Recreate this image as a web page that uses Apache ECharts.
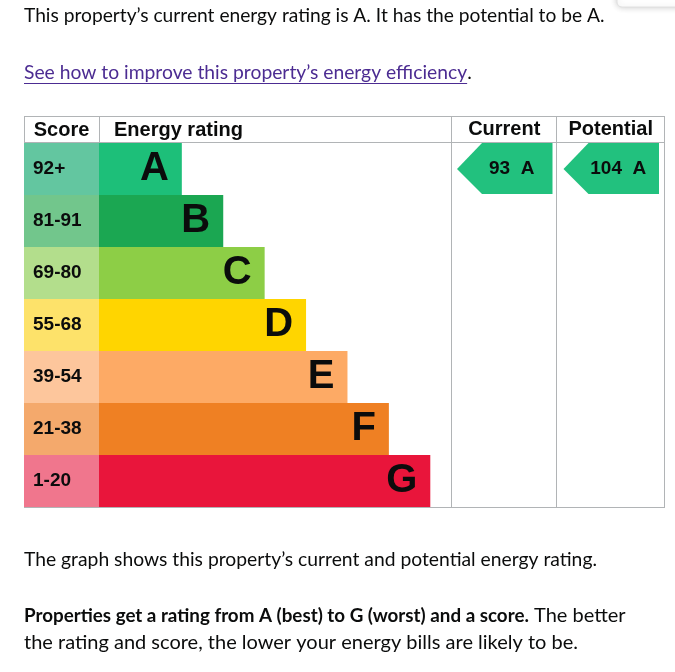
<!DOCTYPE html>
<html style="height: 100%">
<head>
<meta charset="utf-8">
<script src="https://cdn.jsdelivr.net/npm/echarts@6/dist/echarts.min.js"></script>
</head>
<body style="height: 100%; margin: 0; background: #fff">
<div id="container" style="width: 675px; height: 672px;"></div>
<script type="text/javascript">
// energy bands, top (best) to bottom (worst)
var ratings = ['A', 'B', 'C', 'D', 'E', 'F', 'G'];
var scoreRanges = ['92+', '81-91', '69-80', '55-68', '39-54', '21-38', '1-20'];
var barLengths = [2, 3, 4, 5, 6, 7, 8];
var bandColors = ['#1dbf79', '#1ba752', '#8dce46', '#ffd500', '#fdaa65', '#ef8023', '#e9153b'];
var scoreColors = ['#63c6a0', '#72c68c', '#b3de8c', '#fde26a', '#fdc69c', '#f4a96c', '#f0768d'];
var columns = ['Current', 'Potential'];
var scores = [93, 104];
var scoreRatings = ['A', 'A'];

var dom = document.getElementById('container');
var myChart = echarts.init(dom);

var bodyFont = 'Lato';
var lineColor = '#b1b4b6';
var ink = '#0b0c0c';

// measure link width for the underline
var ctx = document.createElement('canvas').getContext('2d');
ctx.font = '19.3px ' + bodyFont;
var linkText = 'See how to improve this property\u2019s energy efficiency';
var linkW = ctx.measureText(linkText).width;

function hline(x1, x2, y) {
    return { type: 'line', shape: { x1: x1, y1: y, x2: x2, y2: y }, style: { stroke: lineColor, lineWidth: 1 } };
}
function vline(x, y1, y2) {
    return { type: 'line', shape: { x1: x, y1: y1, x2: x, y2: y2 }, style: { stroke: lineColor, lineWidth: 1 } };
}

var arrowData = columns.map(function (c, i) {
    return [c, scoreRatings[i], scores[i]];
});

option = {
    backgroundColor: '#fff',
    animation: false,
    grid: [
        { left: 24, top: 143, width: 75, height: 364 },
        { left: 99, top: 143, width: 352, height: 364 },
        { left: 451, top: 143, width: 213, height: 364 }
    ],
    xAxis: [
        { gridIndex: 0, type: 'value', min: 0, max: 1, show: false },
        { gridIndex: 1, type: 'value', min: 0, max: 8.5, show: false },
        {
            gridIndex: 2, type: 'category', data: columns, position: 'top',
            axisLine: { show: false }, axisTick: { show: false },
            axisLabel: { interval: 0, color: ink, fontFamily: 'Liberation Sans', fontWeight: 'bold', fontSize: 20, margin: 4 }
        }
    ],
    yAxis: [
        { gridIndex: 0, type: 'category', data: scoreRanges, inverse: true, show: false },
        { gridIndex: 1, type: 'category', data: ratings, inverse: true, show: false },
        { gridIndex: 2, type: 'category', data: ratings, inverse: true, show: false }
    ],
    series: [
        {
            type: 'bar', xAxisIndex: 0, yAxisIndex: 0, barCategoryGap: 0,
            data: scoreRanges.map(function (s, i) {
                return { value: 1, itemStyle: { color: scoreColors[i] } };
            }),
            label: {
                show: true, position: 'insideLeft', distance: 9, formatter: '{b}',
                color: ink, fontFamily: 'Liberation Sans', fontWeight: 'bold', fontSize: 19
            }
        },
        {
            type: 'bar', xAxisIndex: 1, yAxisIndex: 1, barCategoryGap: 0,
            data: barLengths.map(function (v, i) {
                return { value: v, itemStyle: { color: bandColors[i] } };
            }),
            label: {
                show: true, position: 'insideRight', distance: 13, formatter: '{b}',
                color: ink, fontFamily: 'Liberation Sans', fontWeight: 'bold', fontSize: 40
            }
        },
        {
            type: 'custom', xAxisIndex: 2, yAxisIndex: 2,
            data: arrowData,
            renderItem: function (params, api) {
                var c = api.coord([api.value(0), api.value(1)]);
                var sz = api.size([1, 1]);
                var w = sz[0], h = sz[1];
                var left = c[0] - w / 2 + 6, right = c[0] + w / 2 - 5;
                var top = c[1] - h / 2, bottom = c[1] + h / 2 - 1;
                var neck = left + 25;
                var i = params.dataIndex;
                return {
                    type: 'group',
                    children: [
                        {
                            type: 'polygon',
                            shape: { points: [[left, c[1]], [neck, top], [right, top], [right, bottom], [neck, bottom]] },
                            style: { fill: '#22c17e' }
                        },
                        {
                            type: 'text',
                            style: {
                                text: scores[i] + '  ' + scoreRatings[i],
                                x: (left + right) / 2 + 7, y: c[1],
                                align: 'center', verticalAlign: 'middle',
                                fill: ink, font: 'bold 19px "Liberation Sans"'
                            }
                        }
                    ]
                };
            }
        }
    ],
    graphic: [
        {
            type: 'rect', shape: { x: 617, y: -14, width: 80, height: 21, r: 5 },
            style: { fill: '#fff', stroke: '#e0e0e0', shadowBlur: 6, shadowColor: 'rgba(0,0,0,0.2)' }
        },
        {
            type: 'text', x: 24, y: 16,
            style: { text: 'This property\u2019s current energy rating is A. It has the potential to be A.', font: '19.2px ' + bodyFont, fill: ink, verticalAlign: 'middle' }
        },
        {
            type: 'text', x: 24, y: 73,
            style: { text: linkText, font: '19.3px ' + bodyFont, fill: '#4c2c92', verticalAlign: 'middle' }
        },
        {
            type: 'text', x: 24 + linkW, y: 73,
            style: { text: '.', font: '19.3px ' + bodyFont, fill: ink, verticalAlign: 'middle' }
        },
        {
            type: 'line', shape: { x1: 24, y1: 83.5, x2: 24 + linkW, y2: 83.5 },
            style: { stroke: '#4c2c92', lineWidth: 1 }
        },
        // table frame
        hline(24, 664, 116.5),
        hline(24, 664, 142.5),
        hline(24, 664, 507.5),
        vline(24.5, 116, 508),
        vline(99.5, 116, 143),
        vline(451.5, 116, 508),
        vline(556.5, 116, 508),
        vline(664.5, 116, 508),
        {
            type: 'text', x: 61.5, y: 130,
            style: { text: 'Score', font: 'bold 20px "Liberation Sans"', fill: ink, align: 'center', verticalAlign: 'middle' }
        },
        {
            type: 'text', x: 114, y: 130,
            style: { text: 'Energy rating', font: 'bold 20px "Liberation Sans"', fill: ink, verticalAlign: 'middle' }
        },
        {
            type: 'text', x: 24, y: 560,
            style: { text: 'The graph shows this property\u2019s current and potential energy rating.', font: '19.3px ' + bodyFont, fill: ink, verticalAlign: 'middle' }
        },
        {
            type: 'text', x: 24, y: 616,
            style: {
                text: '{b|Properties get a rating from A (best) to G (worst) and a score.}{n| The better}',
                font: '20px ' + bodyFont, fill: ink, verticalAlign: 'middle',
                rich: {
                    b: { fontFamily: bodyFont, fontSize: 18.8, fontWeight: 'bold', fill: ink },
                    n: { fontFamily: bodyFont, fontSize: 20, fill: ink }
                }
            }
        },
        {
            type: 'text', x: 24, y: 643,
            style: { text: 'the rating and score, the lower your energy bills are likely to be.', font: '20px ' + bodyFont, fill: ink, verticalAlign: 'middle' }
        }
    ]
};

if (option && typeof option === 'object') {
    myChart.setOption(option, true);
}
</script>
</body>
</html>
